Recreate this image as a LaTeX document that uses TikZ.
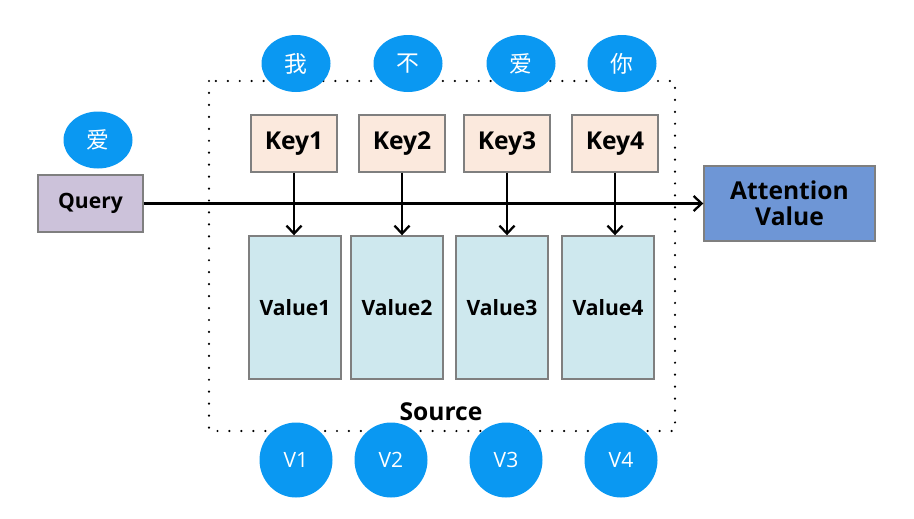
\documentclass[tikz,border=0pt]{standalone}
\usepackage{fontspec}
\setmainfont{Open Sans}
\newfontfamily\cjk{Noto Sans CJK SC}
\usepackage{tikz}
\usetikzlibrary{arrows.meta,positioning,calc,shapes.geometric}

\definecolor{bubble}{HTML}{0A98F2}
\definecolor{keyfill}{HTML}{FBE9DD}
\definecolor{valfill}{HTML}{CEE8EE}
\definecolor{queryfill}{HTML}{CCC2DA}
\definecolor{attnfill}{HTML}{6E96D6}
\definecolor{boxline}{HTML}{7F7F7F}

\tikzset{
  word/.style={ellipse,fill=bubble,text=white,inner sep=0pt,
    minimum width=1.38cm,minimum height=1.14cm,font=\cjk\fontsize{13}{15}\selectfont},
  vbub/.style={ellipse,fill=bubble,text=white,inner sep=0pt,
    minimum width=1.46cm,minimum height=1.5cm,font=\fontsize{12}{14}\selectfont},
  keybox/.style={draw=boxline,line width=0.8pt,fill=keyfill,minimum width=1.72cm,minimum height=1.14cm,
    font=\fontsize{14}{16}\selectfont\bfseries},
  valbox/.style={draw=boxline,line width=0.8pt,fill=valfill,minimum width=1.84cm,minimum height=2.86cm,
    font=\fontsize{12}{14}\selectfont\bfseries},
  link/.style={line width=1.3pt,-{Straight Barb[length=1.6mm,width=3mm,line width=1.3pt]}}
}

\begin{document}
\begin{tikzpicture}
  \useasboundingbox (0,0) rectangle (18.28,-10.36);
  % source frame
  \draw[line width=1.4pt,line cap=round,dash pattern=on 0pt off 6.8pt]
    (4.18,-1.62) rectangle (13.5,-8.62);
  \node[font=\fontsize{14}{16}\selectfont\bfseries] (source) at (8.82,-8.24) {Source};
  % query side
  \node[word] (qword) at (1.96,-2.8) {爱};
  \node[draw=boxline,line width=0.8pt,fill=queryfill,minimum width=2.1cm,minimum height=1.14cm,
    font=\fontsize{12}{14}\selectfont\bfseries] (query) at (1.81,-4.07) {Query};
  % words above the keys
  \node[word] (w1) at (5.92,-1.27) {我};
  \node[word] (w2) at (8.16,-1.27) {不};
  \node[word] (w3) at (10.42,-1.27) {爱};
  \node[word] (w4) at (12.44,-1.27) {你};
  % keys
  \node[keybox] (k1) at (5.88,-2.87) {Key1};
  \node[keybox] (k2) at (8.04,-2.87) {Key2};
  \node[keybox] (k3) at (10.14,-2.87) {Key3};
  \node[keybox] (k4) at (12.30,-2.87) {Key4};
  % values
  \node[valbox] (v1) at (5.90,-6.15) {Value1};
  \node[valbox] (v2) at (7.94,-6.15) {Value2};
  \node[valbox] (v3) at (10.04,-6.15) {Value3};
  \node[valbox] (v4) at (12.16,-6.15) {Value4};
  % output
  \node[draw=boxline,line width=0.8pt,fill=attnfill,minimum width=3.42cm,minimum height=1.5cm,align=center,
    font=\fontsize{14}{15}\selectfont\bfseries] (attn) at (15.79,-4.07) {Attention\\Value};
  % arrows
  \draw[link] (query.east) -- (attn.west);
  \draw[link] (k1.south) -- (k1.south |- v1.north);
  \draw[link] (k2.south) -- (k2.south |- v2.north);
  \draw[link] (k3.south) -- (k3.south |- v3.north);
  \draw[link] (k4.south) -- (k4.south |- v4.north);
  % weights below
  \node[vbub] (a1) at (5.92,-9.2) {V1};
  \node[vbub] (a2) at (7.82,-9.2) {V2};
  \node[vbub] (a3) at (10.12,-9.2) {V3};
  \node[vbub] (a4) at (12.42,-9.2) {V4};
\end{tikzpicture}
\end{document}
